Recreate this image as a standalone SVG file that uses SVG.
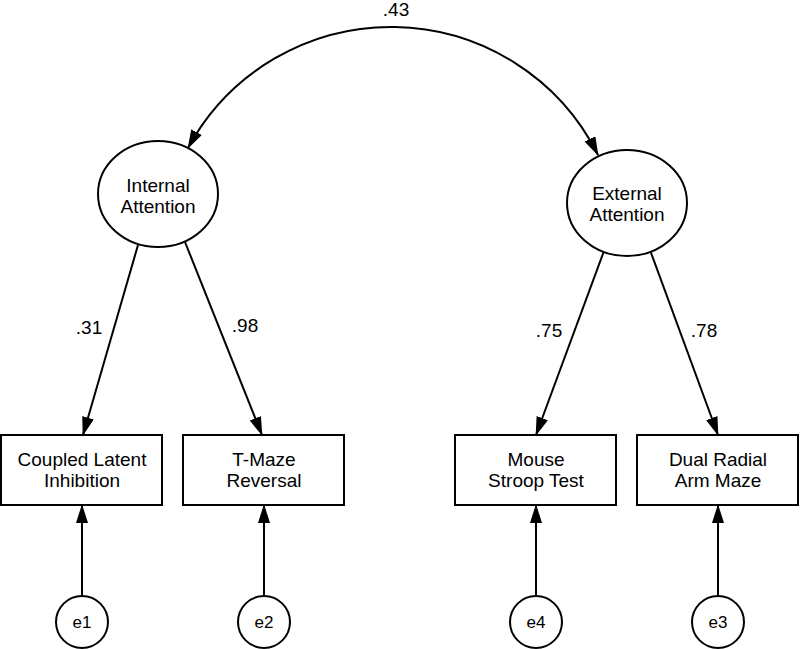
<svg xmlns="http://www.w3.org/2000/svg" width="800" height="649" viewBox="0 0 800 649">
<style>
text{font-family:"Liberation Sans",Arial,sans-serif;fill:#000;text-anchor:middle}
.t{font-size:19px}
.e{font-size:17px}
.shape{fill:#fff;stroke:#000;stroke-width:2}
.c{fill:none;stroke:#000;stroke-width:2}
</style>
<defs>
<marker id="arr" viewBox="0 0 19 12" refX="18" refY="6" markerWidth="19" markerHeight="12" markerUnits="userSpaceOnUse" orient="auto-start-reverse">
<path d="M0,0 L19,6 L0,12 z" fill="#000"/>
</marker>
</defs>
<g id="connectors">
<path class="c" d="M188,148 A231,231 0 0 1 598,155" marker-start="url(#arr)" marker-end="url(#arr)"/>
<text class="t" x="396" y="16">.43</text>
<line class="c" x1="138" y1="245" x2="83" y2="435" marker-end="url(#arr)"/>
<line class="c" x1="185" y1="242" x2="262" y2="435" marker-end="url(#arr)"/>
<line class="c" x1="604" y1="251" x2="536" y2="435" marker-end="url(#arr)"/>
<line class="c" x1="650" y1="250" x2="718" y2="435" marker-end="url(#arr)"/>
<text class="t" x="89" y="334">.31</text>
<text class="t" x="245" y="332">.98</text>
<text class="t" x="549" y="337">.75</text>
<text class="t" x="704" y="337">.78</text>
<line class="c" x1="82" y1="596" x2="82" y2="505" marker-end="url(#arr)"/>
<line class="c" x1="264" y1="596" x2="264" y2="505" marker-end="url(#arr)"/>
<line class="c" x1="536" y1="596" x2="536" y2="505" marker-end="url(#arr)"/>
<line class="c" x1="718" y1="596" x2="718" y2="505" marker-end="url(#arr)"/>
</g>
<g id="internal">
<ellipse class="shape" cx="158" cy="194" rx="60" ry="53"/>
<text class="t" x="158" y="192">Internal</text>
<text class="t" x="158" y="213">Attention</text>
</g>
<g id="external">
<ellipse class="shape" cx="627" cy="203" rx="60" ry="53"/>
<text class="t" x="627" y="200">External</text>
<text class="t" x="627" y="221">Attention</text>
</g>
<g id="cli">
<rect class="shape" x="1" y="435" width="161" height="70"/>
<text class="t" x="82" y="466">Coupled Latent</text>
<text class="t" x="82" y="487">Inhibition</text>
</g>
<g id="tmaze">
<rect class="shape" x="183" y="435" width="161" height="70"/>
<text class="t" x="264" y="466">T-Maze</text>
<text class="t" x="264" y="487">Reversal</text>
</g>
<g id="stroop">
<rect class="shape" x="455" y="435" width="161" height="70"/>
<text class="t" x="536" y="466">Mouse</text>
<text class="t" x="536" y="487">Stroop Test</text>
</g>
<g id="radial">
<rect class="shape" x="637" y="435" width="161" height="70"/>
<text class="t" x="718" y="466">Dual Radial</text>
<text class="t" x="718" y="487">Arm Maze</text>
</g>
<g id="e1"><circle class="shape" cx="82" cy="622" r="26"/><text class="e" x="82" y="628">e1</text></g>
<g id="e2"><circle class="shape" cx="264" cy="622" r="26"/><text class="e" x="264" y="628">e2</text></g>
<g id="e4"><circle class="shape" cx="536" cy="622" r="26"/><text class="e" x="536" y="628">e4</text></g>
<g id="e3"><circle class="shape" cx="718" cy="622" r="26"/><text class="e" x="718" y="628">e3</text></g>
</svg>
